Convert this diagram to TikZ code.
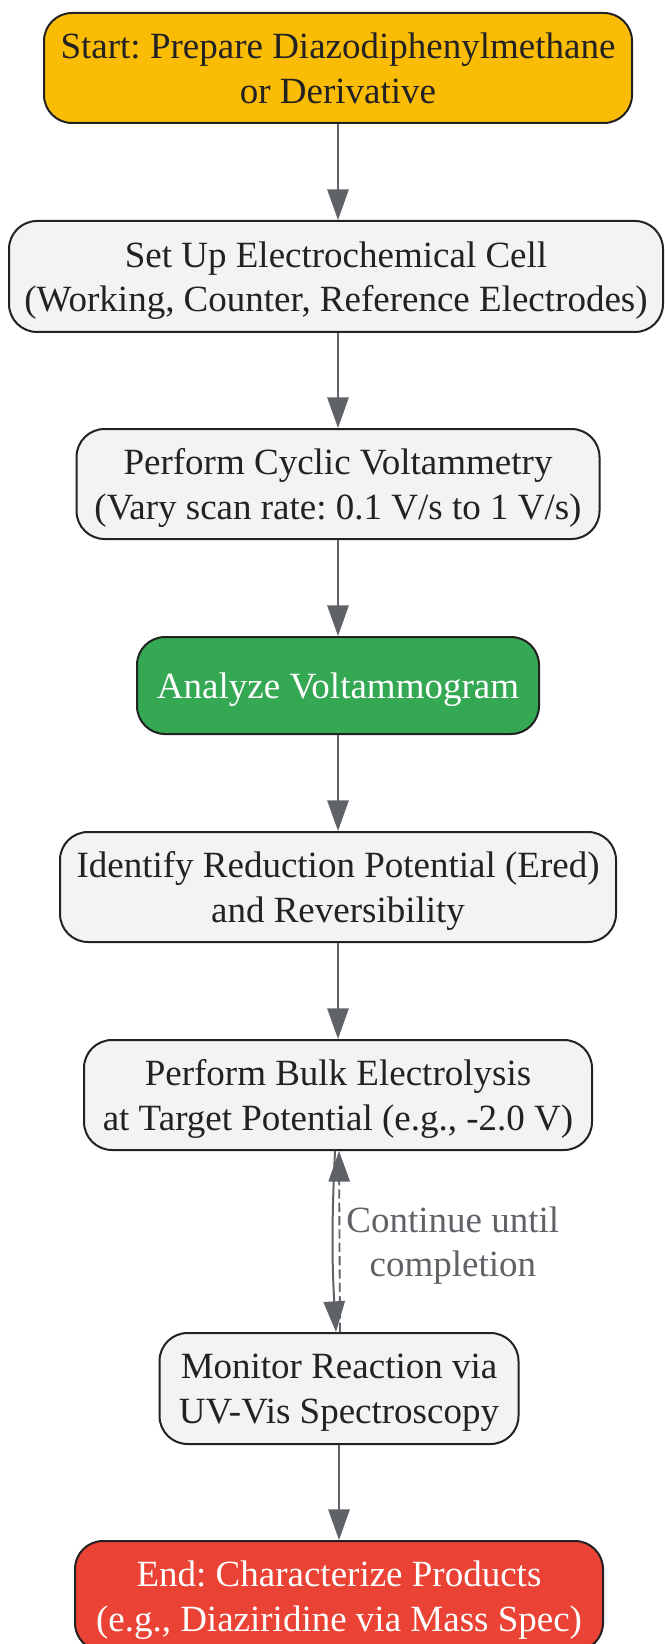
\documentclass[tikz,border=0pt]{standalone}
\usepackage{fontspec}
\setmainfont{Liberation Serif}
\usepackage{xcolor}
\usepackage{tikz}
\usetikzlibrary{arrows.meta}
\definecolor{ink}{HTML}{222222}
\definecolor{arrowgray}{HTML}{5F6368}
\definecolor{stepbg}{HTML}{F1F3F4}
\definecolor{startbg}{HTML}{FBBC05}
\definecolor{greenbg}{HTML}{34A853}
\definecolor{endbg}{HTML}{EA4335}
\frenchspacing
\tikzset{
  box/.style={draw=ink, line width=1.5pt, rounded corners=21pt, fill=stepbg, text=ink,
    align=center, inner sep=0pt, text depth=0pt, font=\fontsize{27.75}{33.5}\selectfont},
  startbox/.style={box, fill=startbg},
  greenbox/.style={box, fill=greenbg, text=white},
  endbox/.style={box, fill=endbg, text=white},
  flow/.style={draw=arrowgray, line width=1.5pt, -{Triangle[length=23pt,width=16pt]}},
  backflow/.style={flow, line width=1.4pt, dash pattern=on 7pt off 3pt},
  lab/.style={text=arrowgray, align=center, text depth=0pt, font=\fontsize{27.75}{33.5}\selectfont},
}

\begin{document}
\begin{tikzpicture}[x=0.75pt, y=-0.75pt]
  \useasboundingbox (0,0) rectangle (664,1644);
  \node[startbox, minimum width=441pt, minimum height=82.5pt] (start) at (338,68)
    {Start: Prepare Diazodiphenylmethane\\or Derivative};
  \node[box, minimum width=490.5pt, minimum height=83.25pt] (cell) at (336,276.5)
    {Set Up Electrochemical Cell\\(Working, Counter, Reference Electrodes)};
  \node[box, minimum width=392.25pt, minimum height=82.5pt] (cv) at (338,484)
    {Perform Cyclic Voltammetry\\(Vary scan rate: 0.1 V/s to 1 V/s)};
  \node[greenbox, minimum width=301.5pt, minimum height=72.75pt] (analyze) at (338,685.5)
    {Analyze Voltammogram};
  \node[box, minimum width=417pt, minimum height=82.5pt] (ered) at (338,887)
    {Identify Reduction Potential (Ered)\\and Reversibility};
  \node[box, minimum width=381pt, minimum height=82.5pt] (bulk) at (338,1095)
    {Perform Bulk Electrolysis\\at Target Potential (e.g., -2.0 V)};
  \node[box, minimum width=269.25pt, minimum height=83.25pt] (monitor) at (339,1388.5)
    {Monitor Reaction via\\UV-Vis Spectroscopy};
  \node[endbox, minimum width=396pt, minimum height=82.5pt] (finish) at (339,1596)
    {End: Characterize Products\\(e.g., Diaziridine via Mass Spec)};

  \draw[flow] (start) -- (start |- cell.north);
  \draw[flow] (cell.south -| cv) -- (cv);
  \draw[flow] (cv) -- (analyze);
  \draw[flow] (analyze) -- (ered);
  \draw[flow] (ered) -- (bulk);
  % loop between electrolysis and monitoring
  \draw[flow] ([xshift=-2.25pt]bulk.south) to[bend right=3] ([xshift=-2.25pt]monitor.north);
  \draw[backflow] ([xshift=0.75pt]monitor.north) -- ([xshift=0.75pt]bulk.south)
    node[lab, midway, right, inner sep=4.5pt] {Continue until\\completion};
  \draw[flow] (monitor) -- (finish);
\end{tikzpicture}
\end{document}
